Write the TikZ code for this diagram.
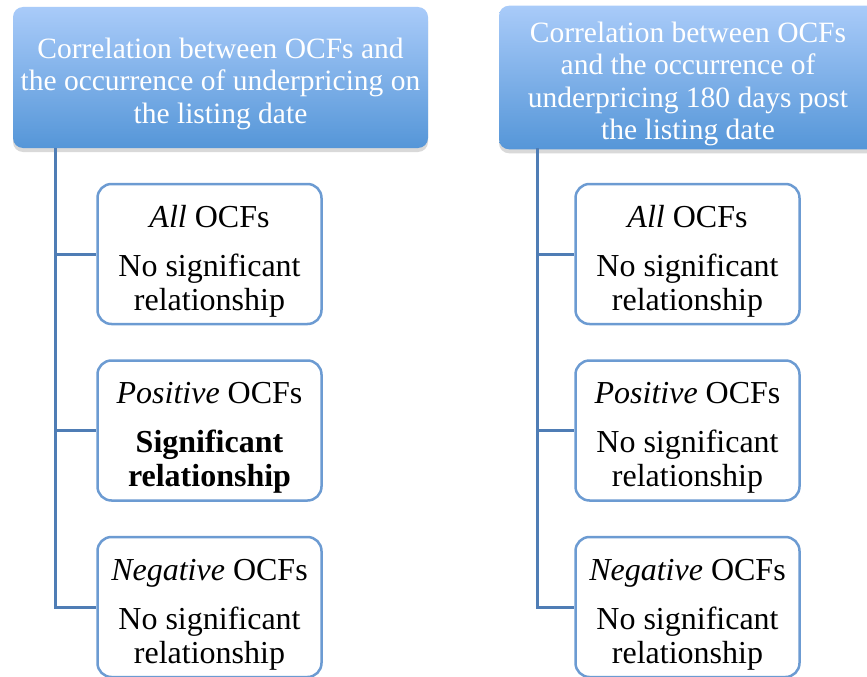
\documentclass[tikz,border=0pt]{standalone}
\usepackage{fontspec}
\setmainfont{Liberation Serif}
\usetikzlibrary{positioning, shadows}
\definecolor{hdrtop}{HTML}{A9CBF9}
\definecolor{hdrbot}{HTML}{5596D8}
\definecolor{boxline}{HTML}{6C9BD2}
\definecolor{spine}{HTML}{4F7DB5}
\tikzstyle{header} = [rectangle, rounded corners=10pt, minimum height=141pt, text=white, top color=hdrtop, bottom color=hdrbot, align=center, font=\fontsize{29.5}{32.5}\selectfont, drop shadow={shadow xshift=0pt, shadow yshift=-4pt, opacity=0.25, fill=black!60}]
\tikzstyle{result} = [rectangle, rounded corners=14pt, draw=boxline, line width=2.5pt, fill=white, minimum width=224pt, minimum height=140pt, align=center, font=\fontsize{32}{34}\selectfont]
\tikzstyle{branch} = [draw=spine, line width=3pt]
\newcommand{\hdrstrut}{\rule{0pt}{33pt}}
\newcommand{\resstrut}{\rule{0pt}{36pt}}

\begin{document}
\begin{tikzpicture}[x=1pt, y=-1pt]
\useasboundingbox (0,0) rectangle (867,677);

% Left column: listing date
\node (hdrL) [header, minimum width=415pt] at (220.5,77.5) {\hdrstrut Correlation between OCFs and\\the occurrence of underpricing on\\the listing date};
\node (allL) [result] at (209.5,254) {\resstrut\textit{All} OCFs\\[15pt]No significant\\relationship};
\node (posL) [result, below=34pt of allL] {\resstrut\textit{Positive} OCFs\\[15pt]\textbf{Significant}\\\textbf{relationship}};
\node (negL) [result, below=34pt of posL] {\resstrut\textit{Negative} OCFs\\[15pt]No significant\\relationship};

% Right column: 180 days post listing
\node (hdrR) [header, minimum width=378pt] at (688,77.5) {\hdrstrut Correlation between OCFs\\and the occurrence of\\underpricing 180 days post\\the listing date};
\node (allR) [result] at (687.5,254) {\resstrut\textit{All} OCFs\\[15pt]No significant\\relationship};
\node (posR) [result, below=34pt of allR] {\resstrut\textit{Positive} OCFs\\[15pt]No significant\\relationship};
\node (negR) [result, below=34pt of posR] {\resstrut\textit{Negative} OCFs\\[15pt]No significant\\relationship};

% Spines
\coordinate (topL) at (55,148);
\coordinate (topR) at (537,148);
\draw [branch] (topL) |- (negL.west);
\draw [branch] (topL |- allL.west) -- (allL.west);
\draw [branch] (topL |- posL.west) -- (posL.west);
\draw [branch] (topR) |- (negR.west);
\draw [branch] (topR |- allR.west) -- (allR.west);
\draw [branch] (topR |- posR.west) -- (posR.west);

\end{tikzpicture}
\end{document}
